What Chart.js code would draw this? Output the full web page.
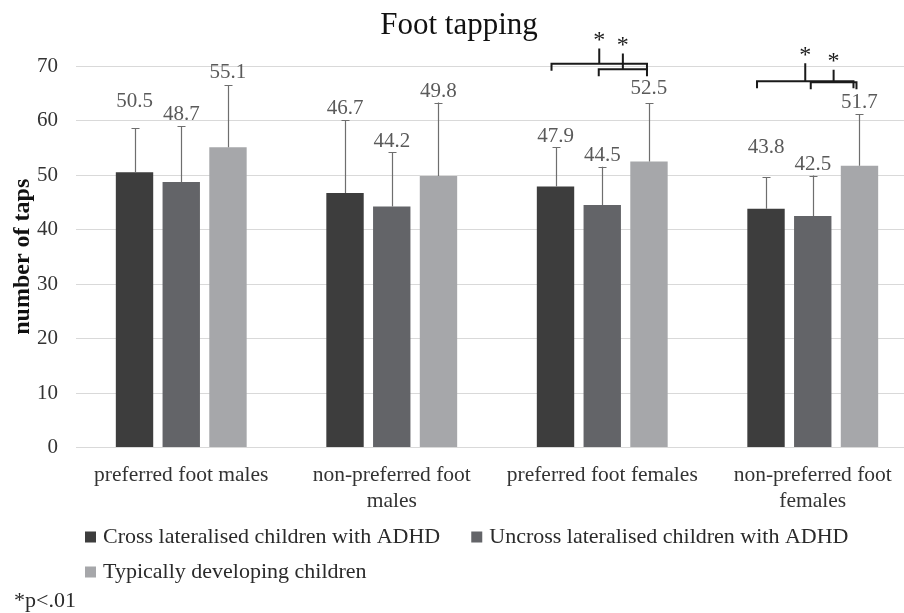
<!DOCTYPE html>
<html><head><meta charset="utf-8">
<script src="https://cdn.jsdelivr.net/npm/chart.js@4/dist/chart.umd.min.js"></script>
<style>
html,body{margin:0;padding:0;background:#fff;}
#wrap{width:904px;height:613px;overflow:hidden;position:relative;background:#fff;}
canvas{display:block;}
</style></head><body>
<div id="wrap"><canvas id="c" width="920" height="613" style="width:920px;height:613px"></canvas></div>
<script>
// ---- data ----
const categories = [['preferred foot males'], ['non-preferred foot', 'males'], ['preferred foot females'], ['non-preferred foot', 'females']];
const seriesNames = ['Cross lateralised children with ADHD', 'Uncross lateralised children with ADHD', 'Typically developing children'];
const crossADHD = [50.5, 46.7, 47.9, 43.8];
const uncrossADHD = [48.7, 44.2, 44.5, 42.5];
const typicalDev = [55.1, 49.8, 52.5, 51.7];
const crossSD = [8.1, 13.4, 7.2, 5.8];
const uncrossSD = [10.3, 10.0, 7.0, 7.4];
const typicalSD = [11.4, 13.5, 10.7, 9.5];
const yMin = 0, yMax = 70, yStep = 10;
const titleText = 'Foot tapping';
const yTitle = 'number of taps';
const footnote = '*p<.01';

const colors = ['#3d3d3d', '#636468', '#a6a7aa'];
const SERIF = '"Liberation Serif", "Times New Roman", serif';

const errorPlugin = {
  id: 'errs',
  afterDatasetsDraw(chart, args, opts) {
    const ctx = chart.ctx, ys = chart.scales.y;
    ctx.save();
    chart.data.datasets.forEach((ds, di) => {
      const meta = chart.getDatasetMeta(di);
      meta.data.forEach((el, i) => {
        const v = ds.data[i], sd = ds.sd[i];
        const yTop = ys.getPixelForValue(v + sd);
        ctx.strokeStyle = opts.color; ctx.lineWidth = opts.width;
        ctx.beginPath();
        ctx.moveTo(Math.round(el.x) + 0.5, el.y);
        ctx.lineTo(Math.round(el.x) + 0.5, yTop);
        ctx.moveTo(Math.round(el.x) - opts.cap + 0.5, Math.round(yTop) + 0.5);
        ctx.lineTo(Math.round(el.x) + opts.cap + 0.5, Math.round(yTop) + 0.5);
        ctx.stroke();
        // value label
        const extra = (opts.labelLift[di + '-' + i] || 0);
        ctx.fillStyle = opts.labelColor;
        ctx.font = opts.labelFont;
        ctx.textAlign = 'center'; ctx.textBaseline = 'middle';
        ctx.fillText(v.toFixed(1), el.x, yTop - opts.lift - extra);
      });
    });
    ctx.restore();
  }
};

const bracketPlugin = {
  id: 'brackets',
  afterDraw(chart, args, opts) {
    const ctx = chart.ctx, ys = chart.scales.y;
    ctx.save();
    ctx.strokeStyle = opts.color; ctx.lineWidth = opts.width;
    ctx.lineJoin = 'miter';
    opts.items.forEach(b => {
      const e1 = chart.getDatasetMeta(b.from).data[b.category];
      const e2 = chart.getDatasetMeta(b.to).data[b.category];
      const x1 = e1.x + b.dx1, x2 = e2.x + b.dx2;
      const y = ys.getPixelForValue(b.level);
      const yt = ys.getPixelForValue(b.tick);
      ctx.beginPath();
      ctx.moveTo(x1, y + opts.drop); ctx.lineTo(x1, y); ctx.lineTo(x2, y); ctx.lineTo(x2, y + opts.drop);
      const xm = (x1 + x2) / 2;
      ctx.moveTo(xm, y); ctx.lineTo(xm, yt);
      ctx.stroke();
      ctx.fillStyle = opts.color; ctx.font = opts.font;
      ctx.textAlign = 'center'; ctx.textBaseline = 'middle';
      ctx.fillText('*', xm, yt - opts.starGap);
    });
    ctx.restore();
  }
};

const legendPlugin = {
  id: 'customLegend',
  afterDraw(chart, args, opts) {
    const ctx = chart.ctx;
    ctx.save();
    ctx.font = opts.font; ctx.textBaseline = 'middle'; ctx.textAlign = 'left';
    let x = opts.left, y = opts.top;
    chart.data.datasets.forEach((ds, i) => {
      const w = opts.box + opts.textGap + ctx.measureText(ds.label).width;
      if (x > opts.left && x + w > opts.maxRight) { x = opts.left; y += opts.rowHeight; }
      ctx.fillStyle = ds.backgroundColor;
      ctx.fillRect(x, y - opts.box / 2, opts.box, opts.box);
      ctx.fillStyle = opts.color;
      ctx.fillText(ds.label, x + opts.box + opts.textGap, y);
      x += w + opts.itemGap;
    });
    ctx.fillText(footnote, opts.noteX, opts.noteY);
    ctx.restore();
  }
};

new Chart(document.getElementById('c'), {
  type: 'bar',
  data: {
    labels: categories,
    datasets: [
      { label: seriesNames[0], data: crossADHD, sd: crossSD, backgroundColor: colors[0] },
      { label: seriesNames[1], data: uncrossADHD, sd: uncrossSD, backgroundColor: colors[1] },
      { label: seriesNames[2], data: typicalDev, sd: typicalSD, backgroundColor: colors[2] }
    ]
  },
  options: {
    responsive: false,
    animation: false,
    devicePixelRatio: 1,
    categoryPercentage: 0.666,
    barPercentage: 0.8,
    layout: { padding: { left: 0, right: 2, top: 0, bottom: 0 } },
    scales: {
      x: {
        grid: { display: false, drawTicks: false },
        border: { display: false },
        ticks: { autoSkip: false, maxRotation: 0, padding: 15, color: '#333333', font: { family: SERIF, size: 21.5 } },
        afterFit(s) { s.height = 165.5; }
      },
      y: {
        min: yMin, max: yMax,
        grid: { color: '#d9d9d9', lineWidth: 1, drawTicks: false },
        border: { display: false },
        ticks: { stepSize: yStep, padding: 18, color: '#333333', font: { family: SERIF, size: 21 } },
        title: { display: true, text: yTitle, color: '#111', font: { family: SERIF, size: 24, weight: 'bold' }, padding: { top: 8, bottom: 0 } },
        afterFit(s) { s.width = 76; }
      }
    },
    plugins: {
      legend: { display: false },
      tooltip: { enabled: false },
      title: { display: true, text: titleText, color: '#111', font: { family: SERIF, size: 31, weight: 'normal' }, padding: { top: 7, bottom: 21.8 } },
      errs: { color: '#6e6e6e', width: 1.2, cap: 4, lift: 11, labelColor: '#5a5a5a', labelFont: '21px ' + SERIF,
        labelLift: { '0-0': 16, '0-3': 19, '2-2': 4, '2-0': 2 } },
      brackets: {
        color: '#1a1a1a', width: 2, drop: 7, starGap: 8, font: '24px ' + SERIF,
        items: [
          { category: 2, from: 0, to: 2, dx1: -4, dx2: -2, level: 70.4, tick: 73.2 },
          { category: 2, from: 1, to: 2, dx1: -3.5, dx2: -2, level: 69.4, tick: 72.3 },
          { category: 3, from: 0, to: 2, dx1: -9, dx2: -6, level: 67.2, tick: 70.5 },
          { category: 3, from: 1, to: 2, dx1: -2, dx2: -3, level: 67.0, tick: 69.3 }
        ]
      },
      customLegend: { font: '22px ' + SERIF, color: '#2a2a2a', left: 85, top: 537, rowHeight: 35, box: 11, textGap: 7, itemGap: 31, maxRight: 900, noteX: 14, noteY: 601 }
    }
  },
  plugins: [errorPlugin, bracketPlugin, legendPlugin]
});
</script>
</body></html>
